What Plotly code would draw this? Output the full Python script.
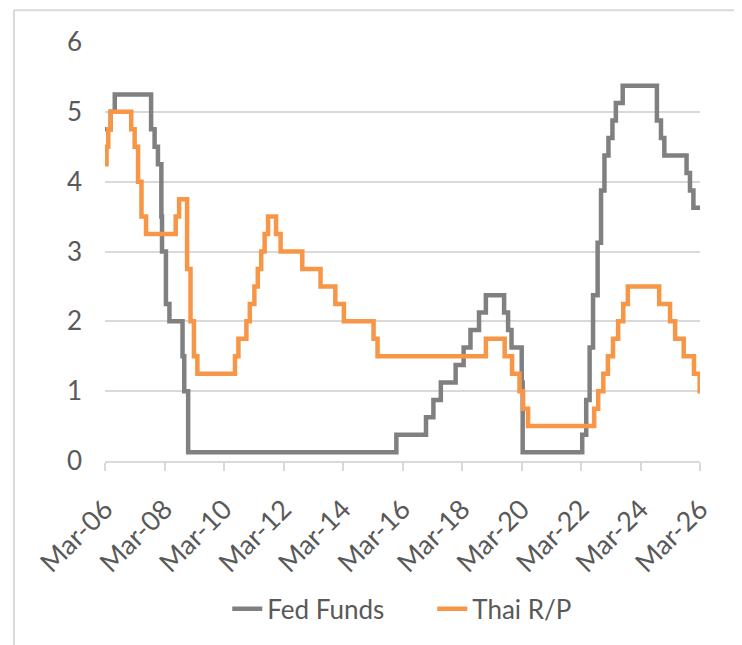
"""Fed Funds vs Thai R/P policy rate, step chart."""

import plotly.graph_objects as go

# Fed Funds (target range midpoint), dates of change and new level
fed_dates = [
    "2006-03-01", "2006-05-10", "2006-06-29", "2007-09-18", "2007-10-31",
    "2007-12-11", "2008-01-22", "2008-01-30", "2008-03-18", "2008-04-30",
    "2008-10-08", "2008-10-29", "2008-12-16", "2015-12-16", "2016-12-14",
    "2017-03-15", "2017-06-14", "2017-12-13", "2018-03-21", "2018-06-13",
    "2018-09-26", "2018-12-19", "2019-07-31", "2019-09-18", "2019-10-30",
    "2020-03-03", "2020-03-15", "2022-03-16", "2022-05-04", "2022-06-15",
    "2022-07-27", "2022-09-21", "2022-11-02", "2022-12-14", "2023-02-01",
    "2023-03-22", "2023-05-03", "2023-07-26", "2024-09-18", "2024-11-07",
    "2024-12-18", "2025-09-17", "2025-10-29", "2025-12-10", "2026-03-01",
]
fed_rates = [
    4.75, 5.0, 5.25, 4.75, 4.5,
    4.25, 3.5, 3.0, 2.25, 2.0,
    1.5, 1.0, 0.125, 0.375, 0.625,
    0.875, 1.125, 1.375, 1.625, 1.875,
    2.125, 2.375, 2.125, 1.875, 1.625,
    1.125, 0.125, 0.375, 0.875, 1.625,
    2.375, 3.125, 3.875, 4.375, 4.625,
    4.875, 5.125, 5.375, 4.875, 4.625,
    4.375, 4.125, 3.875, 3.625, 3.625,
]

# Thai policy rate (1-day R/P)
thai_dates = [
    "2006-03-01", "2006-03-20", "2006-04-10", "2006-05-10", "2007-01-17",
    "2007-02-28", "2007-04-11", "2007-05-23", "2007-07-18", "2008-07-16",
    "2008-08-27", "2008-12-03", "2009-01-14", "2009-02-25", "2009-04-08",
    "2010-07-14", "2010-08-25", "2010-12-01", "2011-01-12", "2011-03-09",
    "2011-04-20", "2011-06-01", "2011-07-13", "2011-08-24", "2011-11-30",
    "2012-01-25", "2012-10-17", "2013-05-29", "2013-11-27", "2014-03-12",
    "2015-03-11", "2015-04-29", "2018-12-19", "2019-08-07", "2019-11-06",
    "2020-02-05", "2020-03-20", "2020-05-20", "2022-08-10", "2022-09-28",
    "2022-11-30", "2023-01-25", "2023-03-29", "2023-05-31", "2023-08-02",
    "2023-09-27", "2024-10-16", "2025-02-26", "2025-04-30", "2025-08-13",
    "2025-12-17", "2026-02-25", "2026-03-01",
]
thai_rates = [
    4.25, 4.5, 4.75, 5.0, 4.75,
    4.5, 4.0, 3.5, 3.25, 3.5,
    3.75, 2.75, 2.0, 1.5, 1.25,
    1.5, 1.75, 2.0, 2.25, 2.5,
    2.75, 3.0, 3.25, 3.5, 3.25,
    3.0, 2.75, 2.5, 2.25, 2.0,
    1.75, 1.5, 1.75, 1.5, 1.25,
    1.0, 0.75, 0.5, 0.75, 1.0,
    1.25, 1.5, 1.75, 2.0, 2.25,
    2.5, 2.25, 2.0, 1.75, 1.5,
    1.25, 1.0, 1.0,
]

x_range = ["2006-03-01", "2026-03-01"]
y_ticks = [0, 1, 2, 3, 4, 5, 6]

GRAY = "#808080"
ORANGE = "#F79646"
TEXT = "#595959"
GRID = "#D9D9D9"
FONT = "Lato, Open Sans, sans-serif"

fig = go.Figure()
fig.add_trace(
    go.Scatter(
        x=fed_dates,
        y=fed_rates,
        mode="lines",
        name="Fed Funds",
        line=dict(color=GRAY, width=4.5, shape="hv"),
    )
)
fig.add_trace(
    go.Scatter(
        x=thai_dates,
        y=thai_rates,
        mode="lines",
        name="Thai R/P",
        line=dict(color=ORANGE, width=4.5, shape="hv"),
    )
)

# outer chart frame (only left and top edges visible in the crop)
for x0, y0, x1, y1 in [(-0.153, -0.6, -0.153, 1.076), (-0.153, 1.076, 1.2, 1.076)]:
    fig.add_shape(
        type="line", xref="paper", yref="paper",
        x0=x0, y0=y0, x1=x1, y1=y1,
        line=dict(color=GRID, width=2),
    )

# page body adds an 8px offset, so the figure is sized to fit inside it
fig.update_layout(
    width=734,
    height=637,
    paper_bgcolor="white",
    plot_bgcolor="white",
    margin=dict(l=97, r=42, t=34, b=184),
    font=dict(family=FONT, size=26, color=TEXT),
    showlegend=True,
    legend=dict(
        orientation="h",
        xanchor="center",
        x=0.55,
        yanchor="middle",
        y=-0.353,
        font=dict(size=26, color=TEXT),
        entrywidth=160,
    ),
)
fig.update_xaxes(
    type="date",
    range=x_range,
    tick0="2006-03-01",
    dtick="M24",
    tickformat="%b-%y",
    tickangle=-45,
    showgrid=False,
    showline=True,
    linecolor=GRID,
    linewidth=1.5,
    ticks="outside",
    ticklen=8,
    tickwidth=1.5,
    tickcolor=GRID,
    ticklabelstandoff=12,
    tickfont=dict(size=27, color=TEXT),
)
fig.update_yaxes(
    range=[0, 6],
    tickvals=y_ticks,
    showgrid=True,
    gridcolor=GRID,
    gridwidth=1.5,
    zeroline=False,
    showline=False,
    ticklabelstandoff=22,
    tickfont=dict(size=26, color=TEXT),
)

fig.write_html("out.html")
